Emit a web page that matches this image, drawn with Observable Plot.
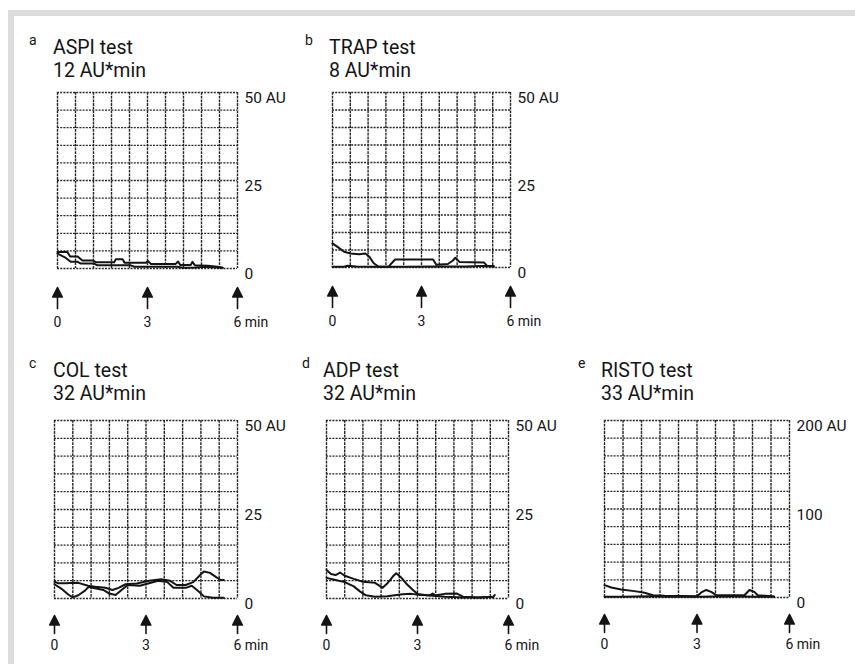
<!DOCTYPE html>
<html>
<head>
<meta charset="utf-8">
<script src="https://cdn.jsdelivr.net/npm/d3@7"></script>
<script src="https://cdn.jsdelivr.net/npm/@observablehq/plot@0.6"></script>
<style>
  html, body { margin: 0; padding: 0; background: #fff; }
  #page { position: relative; width: 855px; height: 664px; overflow: hidden; background: #fff;
          font-family: Roboto, 'Open Sans', sans-serif; color: #141414; }
  #frame { position: absolute; left: 8px; top: 10px; width: 900px; height: 700px;
           border-top: 6px solid #dcdcdc; border-left: 6px solid #dcdcdc; box-sizing: border-box; }
  .panel { position: absolute; }
  .title { position: absolute; font-size: 19.5px; line-height: 23px; white-space: nowrap; }
  .letter { position: absolute; font-size: 14px; line-height: 14px; }
</style>
</head>
<body>
<div id="page"><div id="frame"></div></div>
<script>
// ---- tick labels ----
const timeTicks = [0, 3, 6];
const timeLabels = ["0", "3", "6 min"];
const auTicks50 = [0, 25, 50];
const auLabels50 = ["0", "25", "50 AU"];
const auTicks200 = [0, 100, 200];
const auLabels200 = ["0", "100", "200 AU"];

// ---- panel texts ----
const panelLetters = ["a", "b", "c", "d", "e"];
const panelTests = ["ASPI test", "TRAP test", "COL test", "ADP test", "RISTO test"];
const panelAUC = ["12 AU*min", "8 AU*min", "32 AU*min", "32 AU*min", "33 AU*min"];
const panelYMax = [50, 50, 50, 50, 200];

// ---- traces: [minutes, AU] ----
const aspiRun1 = [[0,4.7],[0.33,4.7],[0.42,3.4],[0.67,3.4],[0.83,2.3],[1.17,2.3],[1.28,1.8],[1.89,1.8],[1.94,2.6],[2.17,2.6],[2.24,1.6],[2.94,1.6],[3.02,2.1],[3.11,1.3],[3.94,1.3],[4.02,2.0],[4.09,1.0],[4.44,1.0],[4.5,1.9],[4.58,0.9],[5.0,0.8],[5.33,0.5],[5.5,0.2]];
const aspiRun2 = [[0,4.2],[0.28,3.0],[0.44,1.9],[0.67,1.9],[0.78,1.4],[1.22,1.4],[1.33,0.9],[2.44,0.9],[2.56,0.5],[4.0,0.5],[4.17,0.2],[4.6,0.3],[5.0,0.5],[5.33,0.3],[5.5,0.2]];

const trapRun1 = [[0,6.9],[0.17,5.9],[0.39,4.5],[0.61,4.0],[0.89,3.8],[1.11,4.0],[1.24,3.1],[1.39,1.2],[1.56,0.2],[1.89,0.2],[2.0,1.3],[2.11,2.3],[3.39,2.3],[3.5,0.8],[3.89,1.0],[4.06,2.0],[4.14,2.8],[4.28,1.6],[5.11,1.4],[5.22,0.4],[5.44,0.2]];
const trapRun2 = [[0,0.2],[0.4,0.2],[0.5,0.5],[0.8,0.3],[1.5,0.2],[2.5,0.2],[3.5,0.3],[4.5,0.3],[5.0,0.4],[5.44,0.4]];

const colRun1 = [[0,4.7],[0.11,4.3],[0.33,4.3],[0.78,4.4],[1.1,3.6],[1.33,3.3],[1.67,3.0],[1.9,2.4],[2.1,3.0],[2.33,4.0],[2.7,4.2],[3.1,5.0],[3.5,5.4],[3.78,5.0],[4.0,3.8],[4.3,3.8],[4.55,4.6],[4.8,6.8],[4.9,7.6],[5.1,7.2],[5.3,6.0],[5.45,5.2],[5.55,5.2]];
const colRun2 = [[0,4.0],[0.22,2.8],[0.44,1.2],[0.6,0.3],[0.78,0.9],[1.0,2.2],[1.11,3.2],[1.33,2.9],[1.6,2.4],[1.8,1.4],[2.0,1.0],[2.2,2.4],[2.4,3.8],[2.8,3.6],[3.1,4.3],[3.4,5.0],[3.7,4.6],[3.9,3.0],[4.3,3.0],[4.5,3.6],[4.7,2.2],[4.9,0.6],[5.2,0.2],[5.55,0.2]];

const adpRun1 = [[0,8.0],[0.15,6.9],[0.3,6.6],[0.45,7.3],[0.6,6.4],[0.9,5.5],[1.2,4.7],[1.6,4.4],[1.85,3.0],[2.0,4.2],[2.2,6.3],[2.3,7.1],[2.45,6.0],[2.65,4.0],[2.85,2.4],[3.0,1.3],[3.3,0.9],[3.6,0.7],[3.9,0.5],[4.5,0.3],[5.0,0.3],[5.5,0.4]];
const adpRun2 = [[0,5.8],[0.3,5.2],[0.6,4.6],[0.9,3.4],[1.1,2.0],[1.3,0.9],[1.6,0.5],[2.0,0.6],[2.5,1.2],[2.8,1.3],[3.1,1.0],[3.4,0.9],[3.5,1.4],[3.6,0.9],[3.9,1.3],[4.3,1.4],[4.5,0.5],[5.0,0.3],[5.5,0.5],[5.55,1.0]];

const ristoRun1 = [[0,14],[0.22,11.3],[0.54,9],[0.97,7.2],[1.3,5.3],[1.57,2.6],[1.95,1.9],[3.0,1.5],[3.14,5.7],[3.3,8.5],[3.46,6.4],[3.62,2.6],[4.54,2.6],[4.7,8.5],[4.86,6.4],[4.97,2.6],[5.5,1.0]];
const ristoRun2 = [[0,0.8],[0.5,0.8],[1.0,1.2],[1.5,1.5],[2.0,0.8],[3.0,0.8],[3.6,1.0],[4.5,1.0],[5.0,0.8],[5.5,0.8]];

const runs = [[aspiRun1, aspiRun2], [trapRun1, trapRun2], [colRun1, colRun2], [adpRun1, adpRun2], [ristoRun1, ristoRun2]];
const yTicks = [auTicks50, auTicks50, auTicks50, auTicks50, auTicks200];
const yLabels = [auLabels50, auLabels50, auLabels50, auLabels50, auLabels200];

// ---- layout (pixels) ----
const layout = [
  {gx: 57,  gy: 92,  gw: 180, gh: 176, tx: 53,  lx: 29,  base: 54,  tip: 19, len: 21, lab: 54},
  {gx: 332, gy: 92,  gw: 178, gh: 175, tx: 329, lx: 305, base: 54,  tip: 19, len: 21, lab: 54},
  {gx: 54,  gy: 420, gw: 183, gh: 178, tx: 53,  lx: 29,  base: 377, tip: 17, len: 18, lab: 47},
  {gx: 326, gy: 420, gw: 182, gh: 178, tx: 323, lx: 302, base: 377, tip: 17, len: 18, lab: 47},
  {gx: 604, gy: 420, gw: 185, gh: 177, tx: 601, lx: 578, base: 377, tip: 17, len: 18, lab: 47}
];

const fontFamily = "Roboto, 'Open Sans', sans-serif";
const ink = "#141414";

const arrowShape = {
  draw(context, l) {
    const hw = 4.8, hh = 9.5;
    context.moveTo(0, 0);
    context.lineTo(0, -l + hh);
    context.moveTo(-hw, -l + hh);
    context.lineTo(0, -l);
    context.lineTo(hw, -l + hh);
    context.closePath();
  }
};

const page = document.getElementById("page");

layout.forEach((L, k) => {
  const mL = 12, mT = 10, mR = 72, mB = 66;
  const ymax = panelYMax[k];
  const xGrid = d3.range(11).map(i => i * 0.6);
  const yGrid = d3.range(11).map(i => i * ymax / 10);
  const chart = Plot.plot({
    width: L.gw + mL + mR,
    height: L.gh + mT + mB,
    marginLeft: mL, marginTop: mT, marginRight: mR, marginBottom: mB,
    x: {domain: [0, 6], axis: null},
    y: {domain: [0, ymax], axis: null},
    style: {fontFamily, color: ink, background: "transparent", overflow: "visible"},
    marks: [
      Plot.ruleY(yGrid, {stroke: "#262626", strokeWidth: 1.3, strokeDasharray: "2,1.2"}),
      Plot.ruleX(xGrid, {stroke: "#262626", strokeWidth: 1.4, strokeDasharray: "2.8,0.9"}),
      Plot.line(runs[k][0], {x: d => d[0], y: d => d[1], stroke: ink, strokeWidth: 2}),
      Plot.line(runs[k][1], {x: d => d[0], y: d => d[1], stroke: ink, strokeWidth: 2}),
      Plot.vector(timeTicks, {
        x: d => d, y: () => 0, length: L.len, rotate: 0, anchor: "start",
        dy: L.tip + L.len, shape: arrowShape, stroke: ink, fill: ink, strokeWidth: 1.6
      }),
      Plot.text(timeTicks, {
        x: d => d, y: () => 0, text: (d, i) => timeLabels[i],
        dy: L.lab, dx: -4, textAnchor: "start", fontSize: 14, fill: ink
      }),
      Plot.text(yTicks[k], {
        x: () => 6, y: d => d, text: (d, i) => yLabels[k][i],
        dx: 7, dy: 6, textAnchor: "start", fontSize: 15.5, fill: ink
      })
    ]
  });
  chart.classList.add("panel");
  chart.style.left = (L.gx - mL) + "px";
  chart.style.top = (L.gy - mT) + "px";
  page.appendChild(chart);
});

// ---- titles (HTML, two lines in one block) ----
layout.forEach((L, k) => {
  const letter = document.createElement("div");
  letter.className = "letter";
  letter.textContent = panelLetters[k];
  letter.style.left = L.lx + "px";
  letter.style.top = (L.base - 9 - 12) + "px";
  page.appendChild(letter);

  const title = document.createElement("div");
  title.className = "title";
  title.style.left = L.tx + "px";
  title.style.top = (L.base - 18.2) + "px";
  title.appendChild(document.createTextNode(panelTests[k]));
  title.appendChild(document.createElement("br"));
  title.appendChild(document.createTextNode(panelAUC[k]));
  page.appendChild(title);
});
</script>
</body>
</html>
